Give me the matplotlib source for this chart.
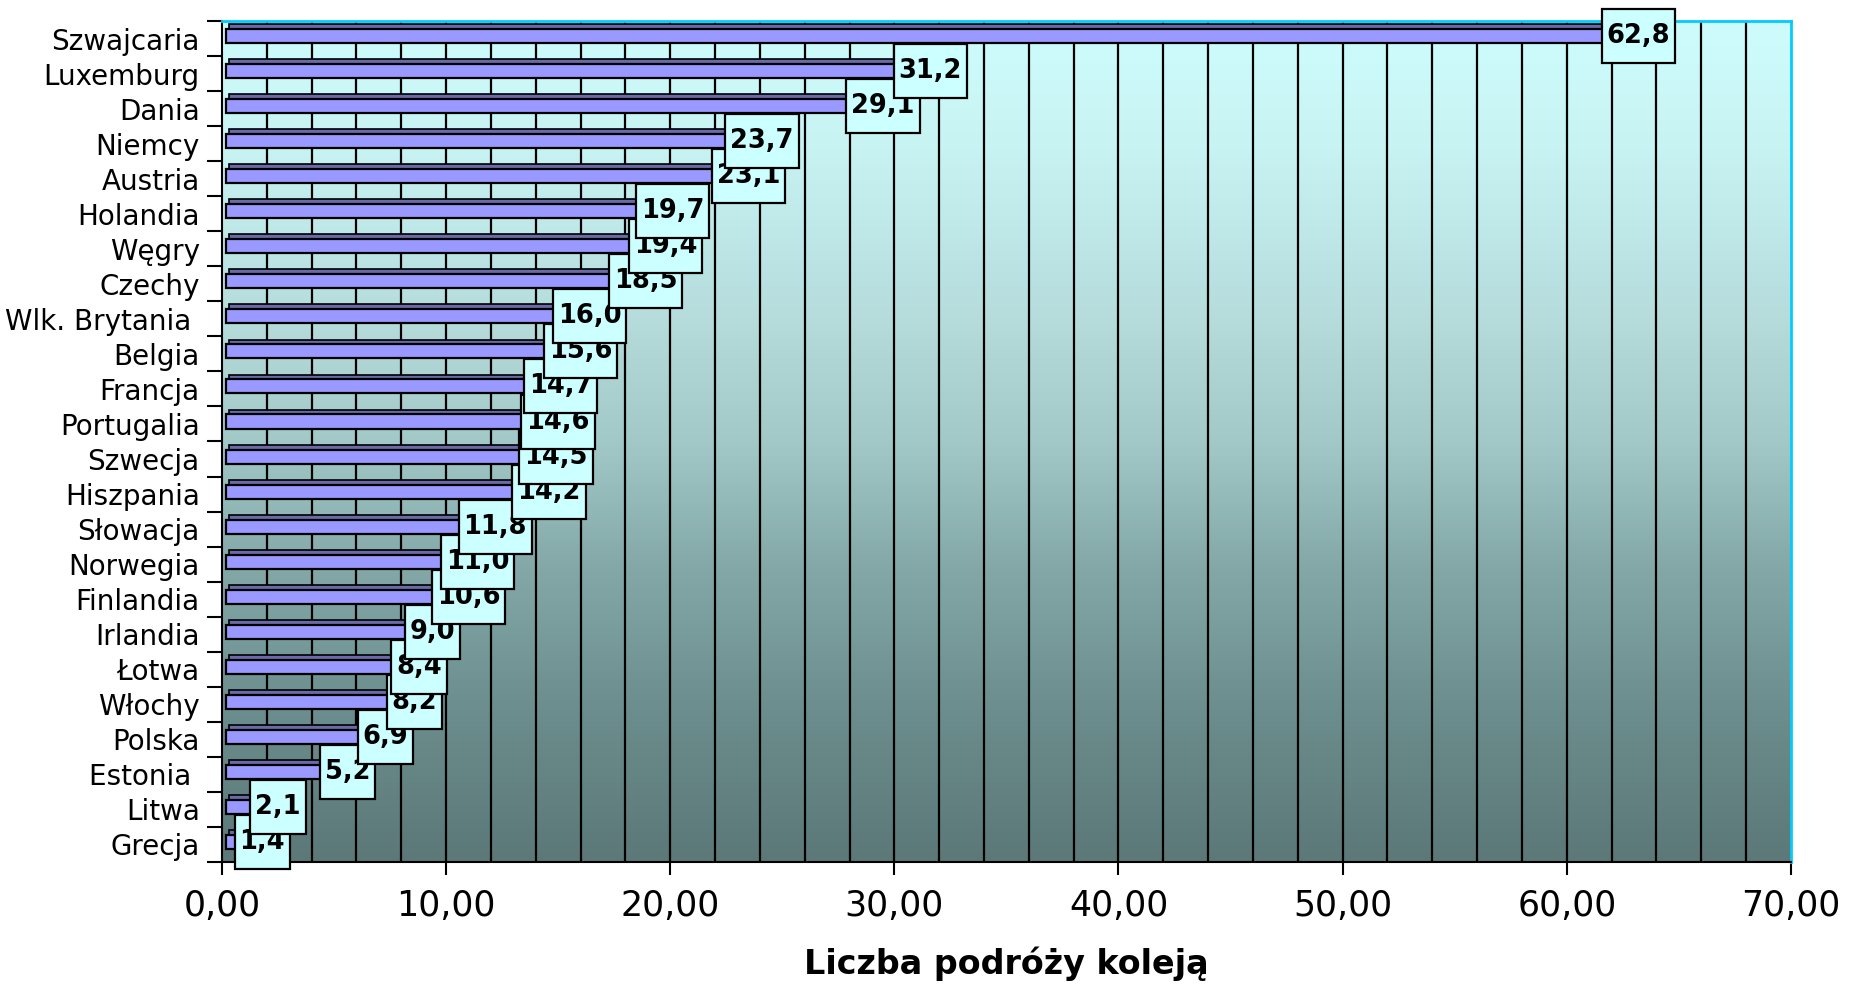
import numpy as np
import matplotlib.pyplot as plt
from matplotlib.patches import Rectangle
from matplotlib.colors import LinearSegmentedColormap
from matplotlib.ticker import FuncFormatter

kraje = ['Szwajcaria', 'Luxemburg', 'Dania', 'Niemcy', 'Austria', 'Holandia',
         'Węgry', 'Czechy', 'Wlk. Brytania ', 'Belgia', 'Francja', 'Portugalia',
         'Szwecja', 'Hiszpania', 'Słowacja', 'Norwegia', 'Finlandia', 'Irlandia',
         'Łotwa', 'Włochy', 'Polska', 'Estonia ', 'Litwa', 'Grecja']
podroze = [62.8, 31.2, 29.1, 23.7, 23.1, 19.7, 19.4, 18.5, 16.0, 15.6, 14.7, 14.6,
           14.5, 14.2, 11.8, 11.0, 10.6, 9.0, 8.4, 8.2, 6.9, 5.2, 2.1, 1.4]

plt.rcParams['font.family'] = ['DejaVu Sans']

fig = plt.figure(figsize=(18.57, 9.85), dpi=100)
ax = fig.add_axes([0.1195, 0.1249, 0.8449, 0.8538])

n = len(kraje)
y = np.arange(n)

# tlo wykresu - gradient od jasnego cyjanu do szarozielonego
tlo = LinearSegmentedColormap.from_list('tlo', [
    (0.0, '#cefcfc'), (0.15, '#c8f3f3'), (0.35, '#b6dcdc'), (0.5, '#a2c8c8'),
    (0.65, '#84a8a8'), (0.8, '#6e9090'), (1.0, '#5c7878')])
grad = np.linspace(0, 1, 256).reshape(-1, 1)
ax.imshow(grad, cmap=tlo, extent=(0, 70, n - 0.5, -0.5), aspect='auto',
          origin='upper', zorder=0)

ax.set_xlim(0, 70)
ax.set_ylim(n - 0.5, -0.5)

for xg in np.arange(2, 70, 2):
    ax.axvline(xg, color='k', lw=1.6, zorder=1)

# slupki z gornym "trojwymiarowym" paskiem
w = np.array(podroze)
ax.barh(y - 0.34, w - 0.13, height=0.14, left=0.33, color='#6a6aa8',
        edgecolor='k', lw=1.2, zorder=2)
ax.barh(y - 0.07, w, height=0.40, left=0.2, color='#9999ff',
        edgecolor='k', lw=1.6, zorder=3)

ax.set_yticks(y)
ax.set_yticklabels(kraje, fontsize=20)
ax.set_yticks(np.arange(-0.5, n, 1), minor=True)
ax.tick_params(axis='y', which='major', length=0, pad=16)
ax.tick_params(axis='y', which='minor', length=11, width=1.5, direction='out')

ax.set_xticks(np.arange(0, 71, 10))
ax.xaxis.set_major_formatter(FuncFormatter(lambda v, p: f'{v:.2f}'.replace('.', ',')))
ax.tick_params(axis='x', length=9.5, width=1.5, labelsize=25, pad=10)

ax.spines['left'].set_linewidth(1.5)
ax.spines['bottom'].set_linewidth(1.5)
ax.spines['top'].set_color('#00ccff')
ax.spines['right'].set_color('#00ccff')
ax.spines['top'].set_linewidth(2)
ax.spines['right'].set_linewidth(2)

ax.set_xlabel('Liczba podróży koleją', fontsize=24, fontweight='bold', labelpad=17)

# etykiety z wartosciami w ramkach
renderer = fig.canvas.get_renderer()
inv = ax.transData.inverted()
for i, v in enumerate(podroze):
    z = 10 + 2 * (n - i)
    t = ax.text(v + 0.4, i - 0.07, f'{v:.1f}'.replace('.', ','), ha='center',
                va='center', fontsize=18.5, fontweight='bold', zorder=z + 1)
    bb = t.get_window_extent(renderer)
    yc = bb.y0 + bb.height / 2
    x0, y0 = inv.transform((bb.x0 - 5, yc - 27))
    x1, y1 = inv.transform((bb.x1 + 5, yc + 27))
    ax.add_patch(Rectangle((x0, min(y0, y1)), x1 - x0, abs(y1 - y0),
                           facecolor='#ccffff', edgecolor='k', lw=1.6,
                           zorder=z, clip_on=False))

fig.savefig('out.png', dpi=100)
